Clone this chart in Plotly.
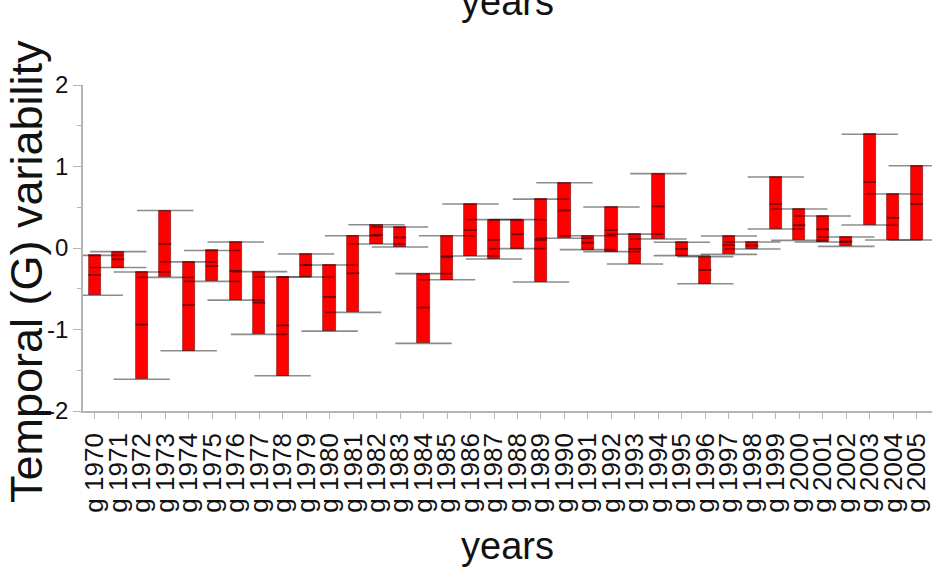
import plotly.graph_objects as go

# Year categories and the G-effect range for each year
years = [str(y) for y in range(1970, 2006)]
tick_labels = ["g " + y for y in years]

highs = [-0.09, -0.045, -0.295, 0.46, -0.17, -0.03, 0.074, -0.29, -0.356, -0.074,
         -0.209, 0.151, 0.286, 0.258, -0.315, 0.151, 0.54, 0.348, 0.348, 0.60,
         0.80, 0.151, 0.503, 0.17, 0.912, 0.07, -0.106, 0.147, 0.074, 0.871,
         0.478, 0.393, 0.135, 1.395, 0.663, 1.01]
lows = [-0.58, -0.24, -1.61, -0.36, -1.26, -0.41, -0.64, -1.06, -1.567, -0.356,
        -1.02, -0.79, 0.049, 0.012, -1.17, -0.39, -0.098, -0.135, -0.008, -0.417,
        0.119, -0.02, -0.045, -0.196, 0.11, -0.094, -0.438, -0.078, -0.012, 0.233,
        0.094, 0.074, 0.02, 0.282, 0.098, 0.098]
mids = [-0.33, -0.14, -0.94, 0.05, -0.70, -0.22, -0.28, -0.67, -0.95, -0.21,
        -0.60, -0.31, 0.16, 0.13, -0.73, -0.11, 0.22, 0.10, 0.17, 0.10,
        0.46, 0.065, 0.22, -0.01, 0.51, -0.01, -0.27, 0.035, 0.03, 0.54,
        0.28, 0.23, 0.08, 0.81, 0.37, 0.54]

xs = list(range(len(years)))
BAR_W = 0.52
CAP_HALF = 1.2
LINE_COL = "rgba(0,0,0,0.45)"
AXIS_COL = "#b4b4b4"
FONT = "Liberation Sans, Arial, sans-serif"

fig = go.Figure()

# floating red bars from low to high
fig.add_trace(go.Bar(
    x=xs, base=lows, y=[h - l for h, l in zip(highs, lows)],
    width=BAR_W,
    marker=dict(color="#ff0000", line=dict(color="rgba(110,0,0,0.7)", width=0.8)),
    hoverinfo="skip", showlegend=False,
))

# wide caps at the top and bottom of every bar
cap_x, cap_y = [], []
for x, h, l in zip(xs, highs, lows):
    for v in (h, l):
        cap_x += [x - CAP_HALF, x + CAP_HALF, None]
        cap_y += [v, v, None]
fig.add_trace(go.Scatter(
    x=cap_x, y=cap_y, mode="lines",
    line=dict(color=LINE_COL, width=1.6),
    cliponaxis=False, hoverinfo="skip", showlegend=False,
))

# centre line inside each bar
mid_x, mid_y = [], []
for x, m in zip(xs, mids):
    mid_x += [x - BAR_W / 2, x + BAR_W / 2, None]
    mid_y += [m, m, None]
fig.add_trace(go.Scatter(
    x=mid_x, y=mid_y, mode="lines",
    line=dict(color="rgba(0,0,0,0.5)", width=1.8),
    hoverinfo="skip", showlegend=False,
))

fig.update_layout(
    width=939, height=571,
    margin=dict(l=83, r=7, t=85, b=160),
    paper_bgcolor="white", plot_bgcolor="white",
    font=dict(family=FONT, color="#111111"),
    bargap=0,
    xaxis=dict(
        range=[-0.5, 35.65],
        tickmode="array", tickvals=xs, ticktext=tick_labels,
        tickangle=-90, tickfont=dict(size=26, family=FONT, color="#111111"),
        showline=True, linecolor=AXIS_COL, linewidth=1.5,
        ticks="outside", ticklen=6, tickcolor=AXIS_COL, tickwidth=1,
        ticklabelstandoff=4,
        showgrid=False, zeroline=False,
    ),
    yaxis=dict(
        range=[-2, 2],
        tickmode="array", tickvals=[-2, -1, 0, 1, 2], ticktext=["-2", "-1", "0", "1", "2"],
        tickfont=dict(size=24, family=FONT, color="#111111"),
        showline=True, linecolor=AXIS_COL, linewidth=1.5,
        ticks="outside", ticklen=8, tickcolor=AXIS_COL, tickwidth=1,
        minor=dict(tickvals=[-1.5, -0.5, 0.5, 1.5], ticks="outside", ticklen=4,
                   tickcolor=AXIS_COL, tickwidth=1),
        showgrid=False, zeroline=False,
    ),
    annotations=[
        dict(text="years", xref="paper", yref="paper", x=0.5, y=0,
             yshift=-112, xanchor="center", yanchor="top", showarrow=False,
             font=dict(size=38, family=FONT, color="#111111")),
        dict(text="years", xref="paper", yref="paper", x=0.5, y=1,
             yshift=60, xanchor="center", yanchor="bottom", showarrow=False,
             font=dict(size=38, family=FONT, color="#111111")),
        dict(text="Temporal (G) variability", xref="paper", yref="paper",
             x=0, xshift=-57, y=0.5, yshift=-24, xanchor="center", yanchor="middle",
             textangle=-90, showarrow=False,
             font=dict(size=45, family=FONT, color="#111111")),
    ],
)

fig.write_html("out.html")
